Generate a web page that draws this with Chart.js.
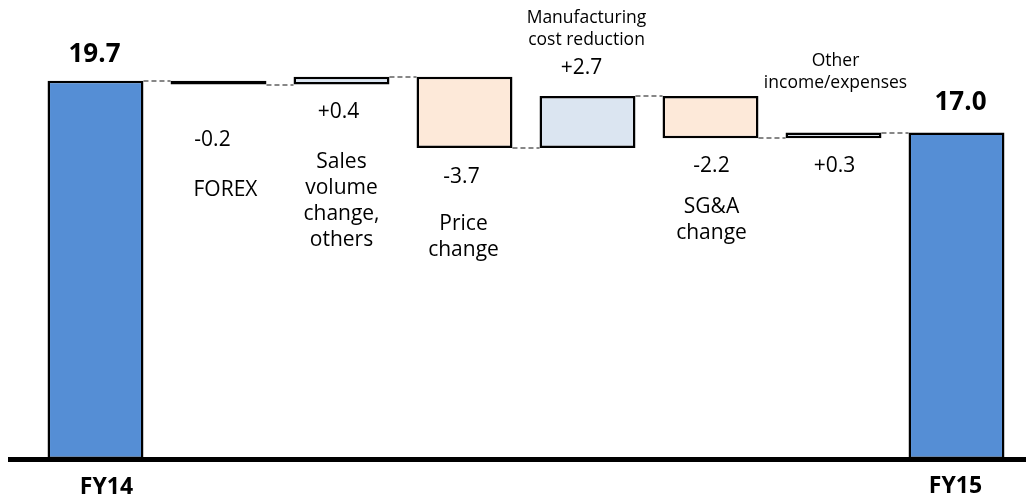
<!DOCTYPE html>
<html>
<head>
<meta charset="utf-8">
<script src="https://cdn.jsdelivr.net/npm/chart.js@4.4.1/dist/chart.umd.min.js"></script>
<style>
    html, body { margin: 0; padding: 0; background: #ffffff; }
    #wrap { width: 1026px; height: 499px; position: relative; }
</style>
</head>
<body>
<div id="wrap"><canvas id="bridgeChart"></canvas></div>
<script>
// bridge from FY14 to FY15
const categories = [
    ['FY14'],
    ['FOREX'],
    ['Sales', 'volume', 'change,', 'others'],
    ['Price', 'change'],
    ['Manufacturing', 'cost reduction'],
    ['SG&A', 'change'],
    ['Other', 'income/expenses'],
    ['FY15'],
];
const startValue = 19.7;
const endValue = 17.0;
const changes = [-0.2, 0.4, -3.7, 2.7, -2.2, 0.3];
const valueLabels = ['19.7', '-0.2', '+0.4', '-3.7', '+2.7', '-2.2', '+0.3', '17.0'];

// floating bars from running totals
const ranges = [[0, startValue]];
let running = startValue;
changes.forEach((c) => {
    ranges.push([running, running + c]);
    running += c;
});
ranges.push([0, endValue]);

const colors = {
    total: '#558ed5',
    up: '#dbe5f1',
    down: '#fde9d9',
    border: '#000000',
    dash: '#606060',
};

const fills = ranges.map((r, i) => {
    if (i === 0 || i === ranges.length - 1) return colors.total;
    return r[1] >= r[0] ? colors.up : colors.down;
});

// text placement: dx from bar centre, y in px
const labelLayout = [
    { value: { dx: -1, y: 55, bold: true }, name: { dx: 11, y: 487, bold: true } },
    { value: { dx: -6, y: 140 }, name: { dx: 7, y: 190 } },
    { value: { dx: -3, y: 112 }, name: { dx: 0, y: 162, step: 26 } },
    { value: { dx: -3, y: 177 }, name: { dx: -1, y: 224, step: 26 } },
    { value: { dx: -6, y: 68 }, name: { dx: -1, y: 18, step: 22, small: true } },
    { value: { dx: 1, y: 166 }, name: { dx: 1, y: 207, step: 26 } },
    { value: { dx: 1, y: 166 }, name: { dx: 2, y: 61, step: 22, small: true } },
    { value: { dx: 4, y: 103, bold: true }, name: { dx: -1, y: 486, bold: true } },
];

const bridgePlugin = {
    id: 'bridge',
    beforeDatasetsDraw(chart) {
        const { ctx } = chart;
        const meta = chart.getDatasetMeta(0);
        const y = chart.scales.y;
        ctx.save();
        ctx.strokeStyle = colors.dash;
        ctx.lineWidth = 1.5;
        ctx.setLineDash([5, 3]);
        for (let i = 0; i < ranges.length - 1; i++) {
            const level = ranges[i][1];
            const a = meta.data[i];
            const b = meta.data[i + 1];
            const yy = Math.round(y.getPixelForValue(level));
            ctx.beginPath();
            ctx.moveTo(a.x + a.width / 2, yy);
            ctx.lineTo(b.x - b.width / 2, yy);
            ctx.stroke();
        }
        ctx.restore();
    },
    afterDraw(chart) {
        const { ctx, chartArea } = chart;
        const meta = chart.getDatasetMeta(0);
        ctx.save();
        // base line
        ctx.fillStyle = '#000000';
        ctx.fillRect(8, chartArea.bottom - 2, chart.width - 8, 5);

        ctx.textAlign = 'center';
        ctx.textBaseline = 'middle';
        ctx.fillStyle = '#000000';
        meta.data.forEach((bar, i) => {
            const lay = labelLayout[i];
            const v = lay.value;
            ctx.font = (v.bold ? 'bold 26px' : '21px') + ' "Open Sans", sans-serif';
            ctx.fillText(valueLabels[i], bar.x + v.dx, v.y);

            const n = lay.name;
            ctx.font = n.bold ? 'bold 23px "Open Sans", sans-serif'
                : (n.small ? '17.5px "Open Sans", sans-serif' : '21px "Open Sans", sans-serif');
            categories[i].forEach((line, k) => {
                ctx.fillText(line, bar.x + n.dx, n.y + k * (n.step || 0));
            });
        });
        ctx.restore();
    },
};

new Chart(document.getElementById('bridgeChart'), {
    type: 'bar',
    data: {
        labels: categories.map((c) => c.join(' ')),
        datasets: [
            {
                data: ranges,
                backgroundColor: fills,
                borderColor: colors.border,
                borderWidth: 2.5,
                borderSkipped: false,
                barPercentage: 0.78,
                categoryPercentage: 1,
            },
        ],
    },
    options: {
        responsive: true,
        maintainAspectRatio: false,
        animation: false,
        layout: { padding: { left: 34, right: 8, top: 0, bottom: 40 } },
        plugins: {
            legend: { display: false },
            tooltip: { enabled: false },
        },
        scales: {
            x: { display: false },
            y: { display: false, min: 0, max: 23.9 },
        },
    },
    plugins: [bridgePlugin],
});
</script>
</body>
</html>
